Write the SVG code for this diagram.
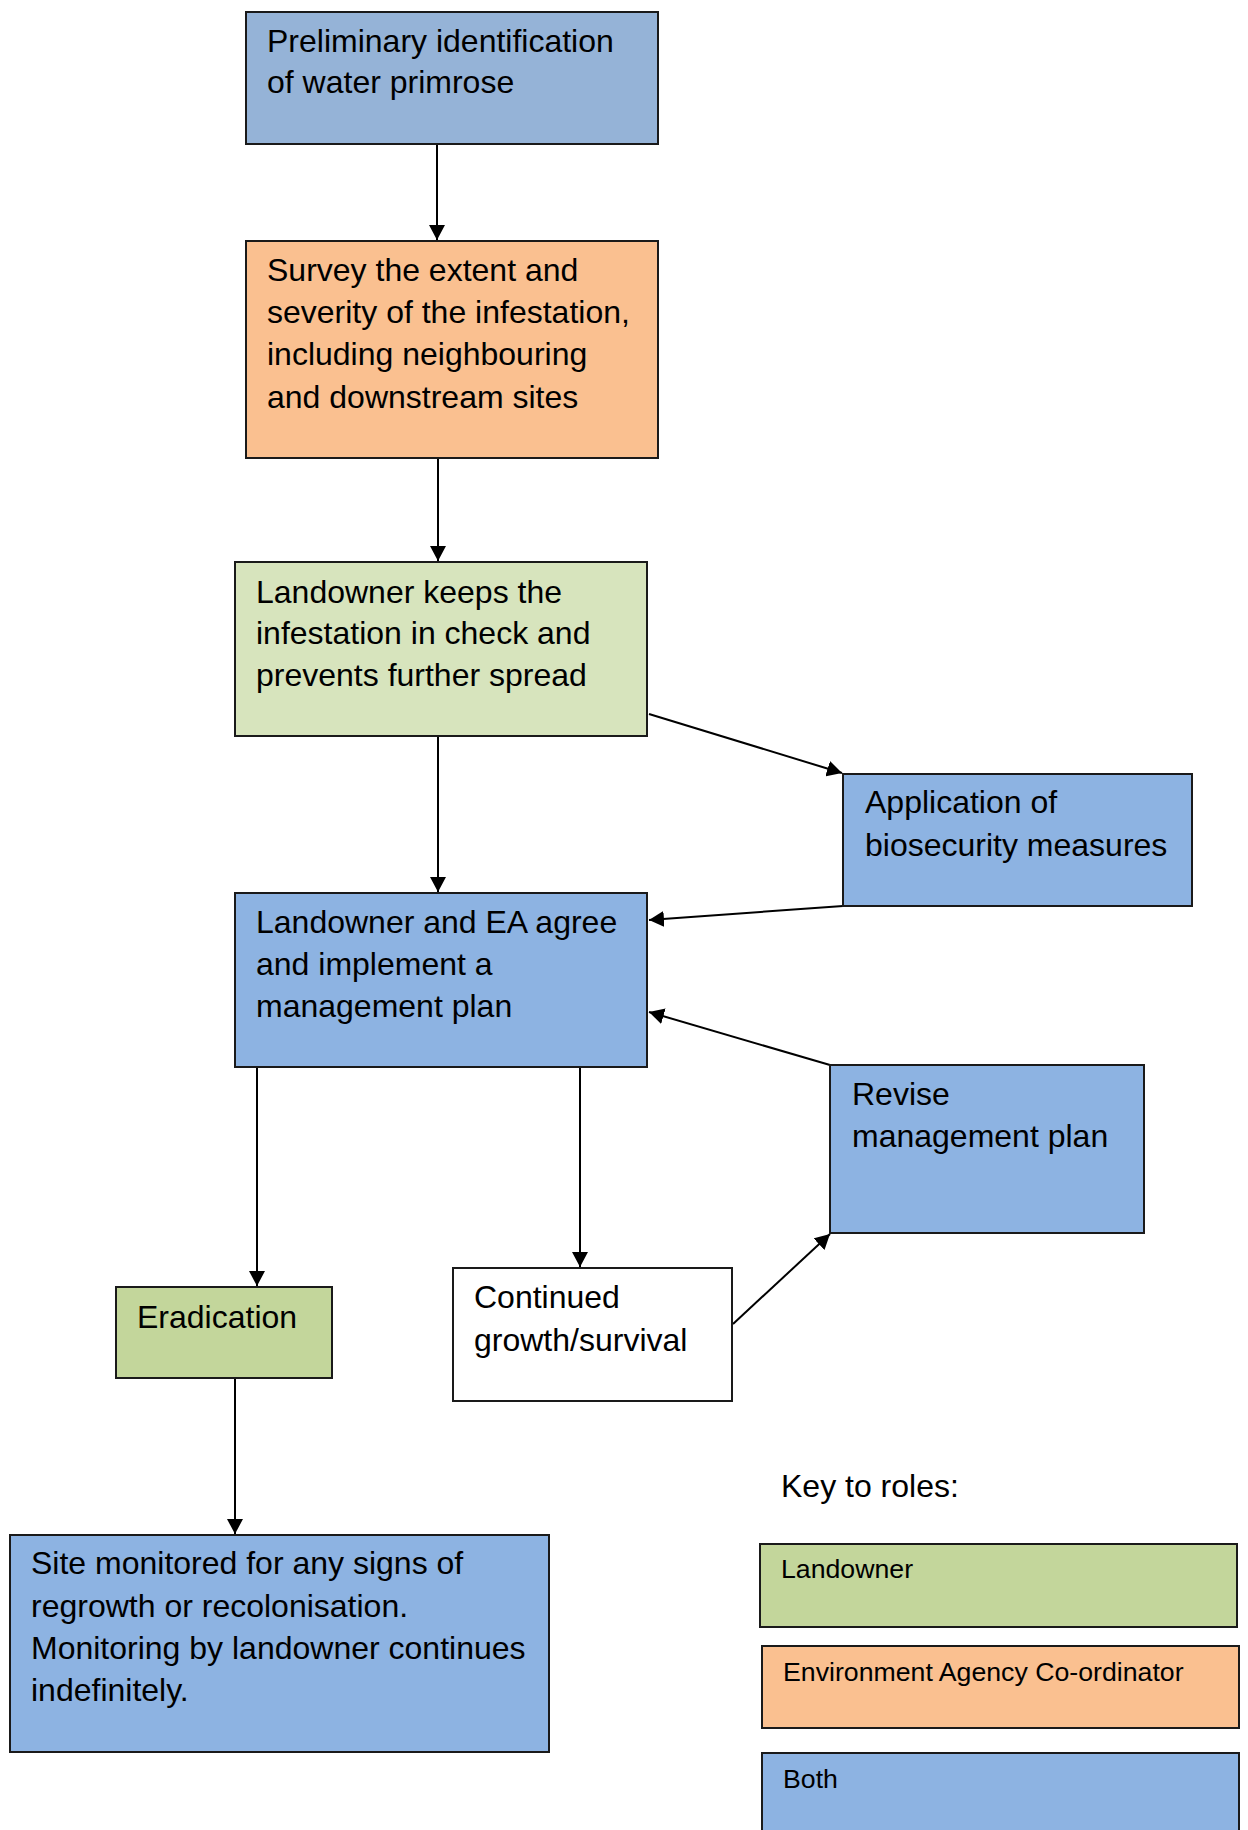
<svg xmlns="http://www.w3.org/2000/svg" width="1248" height="1830" viewBox="0 0 1248 1830">
<defs>
<marker id="arr" markerUnits="userSpaceOnUse" markerWidth="15" markerHeight="16" refX="15" refY="8" orient="auto">
<path d="M0,0 L15,8 L0,16 z" fill="#000"/>
</marker>
<style>
.box{stroke:#1a1a1a;stroke-width:2}
.t{font-family:"Liberation Sans",Arial,sans-serif;font-size:32px;fill:#000}
.k{font-family:"Liberation Sans",Arial,sans-serif;font-size:26.7px;fill:#000}
.c{stroke:#000;stroke-width:2;fill:none;marker-end:url(#arr)}
.blue{fill:#8DB3E2}
.blue1{fill:#95B3D7}
.orange{fill:#FAC090}
.lgreen{fill:#D7E4BD}
.green{fill:#C3D69B}
</style>
</defs>
<rect width="1248" height="1830" fill="#fff"/>
<g id="connectors">
<line class="c" x1="437" y1="145" x2="437" y2="240"/>
<line class="c" x1="438" y1="458" x2="438" y2="561"/>
<line class="c" x1="438" y1="737" x2="438" y2="892"/>
<line class="c" x1="649" y1="714" x2="842" y2="773"/>
<line class="c" x1="843" y1="906" x2="649" y2="920"/>
<line class="c" x1="830" y1="1065" x2="649" y2="1012"/>
<line class="c" x1="257" y1="1067" x2="257" y2="1286"/>
<line class="c" x1="580" y1="1067" x2="580" y2="1267"/>
<line class="c" x1="733" y1="1324" x2="830" y2="1234"/>
<line class="c" x1="235" y1="1377" x2="235" y2="1534"/>
</g>
<g id="n1">
<rect class="box blue1" x="246" y="12" width="412" height="132"/>
<text class="t" x="267" y="52">Preliminary identification</text>
<text class="t" x="267" y="93">of water primrose</text>
</g>
<g id="n2">
<rect class="box orange" x="246" y="241" width="412" height="217"/>
<text class="t" x="267" y="281">Survey the extent and</text>
<text class="t" x="267" y="323">severity of the infestation,</text>
<text class="t" x="267" y="365">including neighbouring</text>
<text class="t" x="267" y="408">and downstream sites</text>
</g>
<g id="n3">
<rect class="box lgreen" x="235" y="562" width="412" height="174"/>
<text class="t" x="256" y="603">Landowner keeps the</text>
<text class="t" x="256" y="644">infestation in check and</text>
<text class="t" x="256" y="686">prevents further spread</text>
</g>
<g id="n4">
<rect class="box blue" x="843" y="774" width="349" height="132"/>
<text class="t" x="865" y="813">Application of</text>
<text class="t" x="865" y="856">biosecurity measures</text>
</g>
<g id="n5">
<rect class="box blue" x="235" y="893" width="412" height="174"/>
<text class="t" x="256" y="933">Landowner and EA agree</text>
<text class="t" x="256" y="975">and implement a</text>
<text class="t" x="256" y="1017">management plan</text>
</g>
<g id="n6">
<rect class="box blue" x="830" y="1065" width="314" height="168"/>
<text class="t" x="852" y="1105">Revise</text>
<text class="t" x="852" y="1147">management plan</text>
</g>
<g id="n7">
<rect class="box green" x="116" y="1287" width="216" height="91"/>
<text class="t" x="137" y="1328">Eradication</text>
</g>
<g id="n8">
<rect class="box" fill="#fff" x="453" y="1268" width="279" height="133"/>
<text class="t" x="474" y="1308">Continued</text>
<text class="t" x="474" y="1351">growth/survival</text>
</g>
<g id="n9">
<rect class="box blue" x="10" y="1535" width="539" height="217"/>
<text class="t" x="31" y="1574">Site monitored for any signs of</text>
<text class="t" x="31" y="1617">regrowth or recolonisation.</text>
<text class="t" x="31" y="1659">Monitoring by landowner continues</text>
<text class="t" x="31" y="1701">indefinitely.</text>
</g>
<g id="key">
<text class="t" x="781" y="1497">Key to roles:</text>
<g id="key-landowner">
<rect class="box green" x="760" y="1544" width="477" height="83"/>
<text class="k" x="781" y="1578">Landowner</text>
</g>
<g id="key-ea">
<rect class="box orange" x="762" y="1646" width="477" height="82"/>
<text class="k" x="783" y="1681">Environment Agency Co-ordinator</text>
</g>
<g id="key-both">
<rect class="box blue" x="762" y="1753" width="477" height="90"/>
<text class="k" x="783" y="1788">Both</text>
</g>
</g>
</svg>
